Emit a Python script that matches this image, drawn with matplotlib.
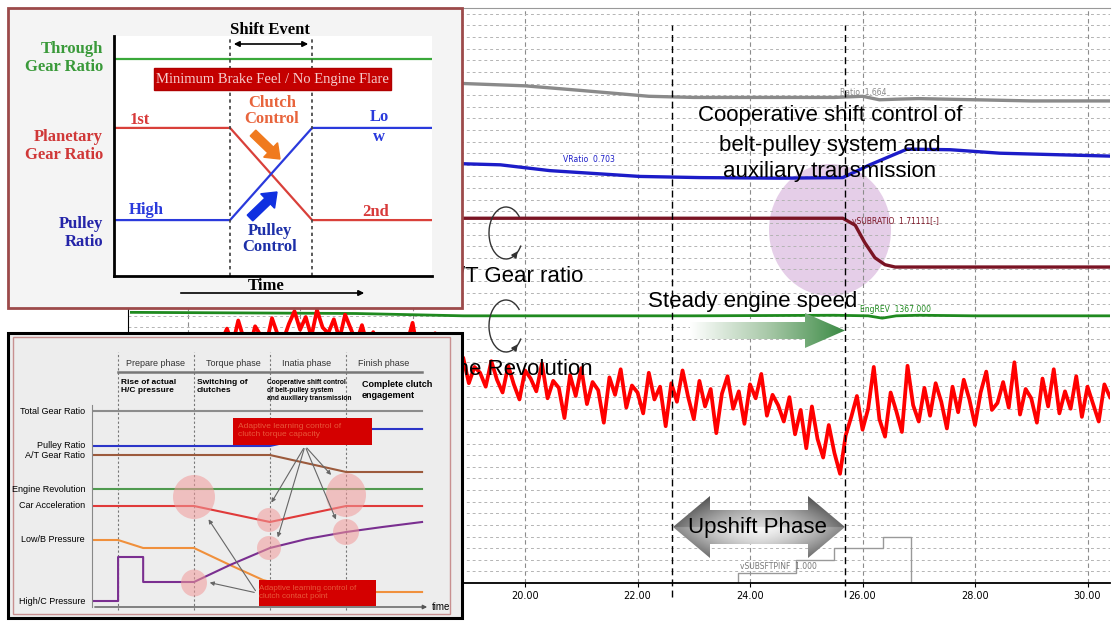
import numpy as np
import matplotlib
matplotlib.use("Agg")
import matplotlib.pyplot as plt
from matplotlib.patches import Ellipse, Arc, Rectangle, FancyArrow, Polygon
from matplotlib.colors import LinearSegmentedColormap

W, H = 1114, 621

# ---- recorder traces (time in s, level in grid divisions) ----
ratio_t = [13.0, 18.9, 20.0, 21.0, 22.2, 23.0, 24.5, 25.5, 26.0, 26.3, 26.6, 27.0, 28.0, 29.0, 30.4]
ratio_v = [43.3, 43.0, 42.8, 42.4, 41.9, 41.8, 41.8, 41.8, 41.9, 41.6, 41.65, 41.7, 41.6, 41.5, 41.5]

vratio_t = [13.0, 18.84, 19.56, 20.44, 22.04, 23.11, 24.53, 25.65, 26.13, 26.79, 27.56, 28.44, 30.4]
vratio_v = [37.0, 36.1, 36.0, 35.5, 35.0, 34.9, 34.85, 34.9, 36.0, 37.35, 37.3, 37.0, 36.75]

subratio_t = [13.0, 25.65, 25.87, 26.04, 26.22, 26.4, 26.58, 30.4]
subratio_v = [31.4, 31.4, 30.8, 29.3, 28.0, 27.4, 27.2, 27.2]

engrev_t = [13.0, 17.0, 18.9, 21.0, 23.0, 25.5, 26.1, 26.35, 26.6, 27.0, 28.0, 30.4]
engrev_v = [23.3, 23.2, 23.0, 23.0, 23.0, 23.05, 23.0, 22.8, 23.0, 23.05, 23.0, 23.0]

shift_t = [13.0, 23.79, 24.82, 25.49, 26.36, 26.86, 30.4]
shift_v = [0.0, 0.9, 2.0, 3.0, 4.0, 0.0, 0.0]

accel_v = [
    20.8, 21.9, 20.5, 22.6, 21.0, 20.2, 22.1, 21.3, 20.6, 22.8,
    21.4, 20.9, 22.3, 23.4, 21.8, 22.9, 21.2, 23.5, 22.0, 21.5,
    22.7, 21.0, 23.1, 21.9, 20.7, 22.2, 20.4, 21.6, 19.8, 20.9,
    19.5, 21.2, 19.9, 20.6, 22.4, 19.7, 20.8, 19.3, 21.5, 19.6,
    18.4, 19.0, 17.6, 19.4, 17.2, 18.6, 18.1, 16.9, 19.1, 17.5,
    16.4, 18.7, 17.1, 15.8, 18.3, 17.6, 16.5, 18.9, 15.9, 17.4,
    16.8, 14.2, 17.9, 16.1, 18.5, 15.4, 17.3, 16.6, 13.8, 17.7,
    16.2, 18.4, 15.1, 17.0, 16.4, 14.6, 18.1, 15.8, 16.9, 13.5,
    17.2, 15.6, 18.3, 16.0, 14.1, 17.4, 15.2, 16.7, 12.9, 16.3,
    17.8, 15.0, 16.5, 13.7, 17.1, 15.9, 18.0, 14.4, 16.2, 15.3,
    13.9, 16.0, 12.8, 14.9, 11.6, 15.2, 12.4, 10.8, 13.6, 11.2,
    9.4, 12.7, 14.3, 16.1, 13.2, 15.0, 18.6, 14.1, 12.6, 16.4,
    14.8, 13.0, 18.7, 15.3, 13.9, 16.8, 14.4, 17.2, 15.6, 13.3,
    16.9, 14.7, 17.5, 15.8, 13.6, 16.4, 18.2, 14.9, 15.5, 17.3,
    15.1, 19.0, 14.5, 16.7, 15.9, 13.8, 17.6, 15.2, 18.4, 14.6,
    16.5, 15.0, 17.8, 14.3, 16.9, 15.4, 13.9, 17.1, 16.0,
]
accel_t = np.linspace(14.6, 30.4, len(accel_v))

time_ticks = [14, 16, 18, 20, 22, 24, 26, 28, 30]
time_labels = ["", "", "", "20.00", "22.00", "24.00", "26.00", "28.00", "30.00"]  # left ones sit under the insets
upshift_start, upshift_end = 22.61, 25.69

# ---- schematic 1 (shift event) ----
sch_t = [0, 3.65, 6.23, 10]
through_v = [9.04, 9.04, 9.04, 9.04]
planetary_v = [6.17, 6.17, 2.33, 2.33]
pulley_v = [2.33, 2.33, 6.17, 6.17]

# ---- schematic 2 (phases) ----
phase_t = [7.9, 30.9, 53.9, 77.0]
phase_names = ["Prepare phase", "Torque phase", "Inatia phase", "Finish phase"]
total_t, total_v = [0, 100], [19.6, 19.6]
pul2_t, pul2_v = [0, 53.9, 77, 100], [16.1, 16.1, 17.8, 17.8]
at_t, at_v = [0, 53.9, 77, 100], [15.2, 15.2, 13.5, 13.5]
eng_t, eng_v = [0, 100], [11.8, 11.8]
acc_t, acc_v = [0, 30.9, 53.9, 77, 100], [10.1, 10.1, 8.5, 10.1, 10.1]
lowb_t = [0, 7.9, 15.5, 30.9, 41.8, 51.8, 60, 77, 100]
lowb_v = [6.7, 6.7, 5.9, 5.9, 4.2, 2.7, 2.0, 1.5, 1.5]
highc_t = [0, 7.9, 7.9, 15.5, 15.5, 30.9, 41.8, 53.9, 65, 77, 88, 100]
highc_v = [0.6, 0.6, 5.0, 5.0, 2.5, 2.5, 4.2, 5.9, 6.8, 7.5, 8.0, 8.5]


def px_rect(x0, y0, x1, y1):
    return [x0 / W, 1 - y1 / H, (x1 - x0) / W, (y1 - y0) / H]


def px_axes(fig, box, z):
    a = fig.add_axes(px_rect(*box))
    a.set_xlim(box[0], box[2])
    a.set_ylim(box[3], box[1])
    a.axis("off")
    a.set_zorder(z)
    return a


def gradient_fill(a, verts, img, extent, cmap, z):
    poly = Polygon(verts, closed=True, facecolor="none", edgecolor="none")
    a.add_patch(poly)
    im = a.imshow(img, extent=extent, aspect="auto", cmap=cmap, vmin=0, vmax=1,
                  interpolation="bilinear", zorder=z)
    im.set_clip_path(poly)


def loop_arrow(a, cx, cy):
    a.add_patch(Arc((cx, cy), 34, 52, theta1=40, theta2=310, color="#333333", lw=1.0))
    th0, th1 = np.radians(58), np.radians(38)
    a.annotate("", xy=(cx + 17 * np.cos(th1), cy + 26 * np.sin(th1)),
               xytext=(cx + 17 * np.cos(th0), cy + 26 * np.sin(th0)),
               arrowprops=dict(arrowstyle="-|>", color="#333333", lw=1.0, mutation_scale=9))


fig = plt.figure(figsize=(W / 100, H / 100), dpi=100)
MAIN = (128, 8, 1110, 583)
SANS = "Liberation Sans"
SERIF = "Liberation Serif"

# purple highlight behind the traces
back = px_axes(fig, MAIN, 0)
back.add_patch(Ellipse((830, 230), 122, 132, facecolor="#cc9ed2", alpha=0.5, edgecolor="none"))

# ---- main recorder chart ----
ax = fig.add_axes(px_rect(*MAIN))
ax.set_zorder(1)
ax.patch.set_visible(False)
ax.set_xlim(12.94, 30.4)
ax.set_ylim(0, 49.5)
ax.set_xticks(time_ticks)
ax.set_xticklabels(time_labels)
ax.set_yticks(range(1, 50))
ax.tick_params(axis="y", length=0, labelleft=False)
ax.tick_params(axis="x", length=3, labelsize=7, pad=3)
ax.xaxis.grid(True, color="#8c8c8c", lw=0.8, ls=(0, (4, 3)))
ax.yaxis.grid(True, color="#b4b4b4", lw=0.7, ls=(0, (3, 3)))
ax.spines["right"].set_visible(False)
ax.spines["top"].set_color("#999999")
ax.spines["bottom"].set_linewidth(1.3)

ax.plot(ratio_t, ratio_v, color="#8a8a8a", lw=2.4)
ax.plot(vratio_t, vratio_v, color="#1c1cc8", lw=2.4)
ax.plot(subratio_t, subratio_v, color="#7a1424", lw=2.4)
ax.plot(engrev_t, engrev_v, color="#1f8a1f", lw=2.0)
ax.plot(accel_t, accel_v, color="#ff0000", lw=2.7)
ax.plot(shift_t, shift_v, color="#999999", lw=1.0, drawstyle="steps-post")
for t in (upshift_start, upshift_end):
    ax.plot([t, t], [-1.2, 48.0], color="black", lw=1.0, ls=(0, (5, 3)), clip_on=False)

ax.text(25.6, 42.2, "Ratio  1.664", fontsize=5.5, color="#888888", va="center")
ax.text(20.68, 36.1, "VRatio  0.703", fontsize=5.5, color="#1c1cc8", va="bottom")
ax.text(25.81, 31.2, "vSUBRATIO  1.71111[-]", fontsize=5.5, color="#7a1424", va="center")
ax.text(25.96, 23.2, "EngREV  1367.000", fontsize=5.5, color="#1f8a1f", va="bottom")
ax.text(23.82, 1.4, "vSUBSFTPINF  1.000", fontsize=5.5, color="#777777", va="center")

# ---- annotations on top of the recorder ----
front = px_axes(fig, MAIN, 2)
for y, s in [(116, "Cooperative shift control of"), (145, "belt-pulley system and"),
             (171, "auxiliary transmission")]:
    front.text(830, y, s, ha="center", va="center", fontsize=16, family=SANS)
front.text(444, 277, "A/T Gear ratio", ha="left", va="center", fontsize=16, family=SANS)
front.text(412, 370, "Engine Revolution", ha="left", va="center", fontsize=16, family=SANS)
front.text(753, 302, "Steady engine speed", ha="center", va="center", fontsize=16, family=SANS)
loop_arrow(front, 506, 233)
loop_arrow(front, 506, 326)

green_cmap = LinearSegmentedColormap.from_list("g", ["#ffffff", "#a9c9a9", "#3b8a44"])
gradient_fill(front, [(690, 322), (805, 322), (805, 313), (845, 330.5), (805, 348), (805, 339), (690, 339)],
              np.linspace(0, 1, 256)[None, :], [690, 845, 348, 313], green_cmap, 3)

gx = np.linspace(-1, 1, 200)[None, :]
gy = np.linspace(-1, 1, 80)[:, None]
shade = np.clip(0.97 - 0.45 * np.abs(gx) ** 1.6 - 0.35 * np.abs(gy) ** 1.4 - 0.12 * (gy < 0), 0, 1)
gradient_fill(front, [(673, 527), (710, 496), (710, 510), (808, 510), (808, 496), (845, 527),
                      (808, 558), (808, 544), (710, 544), (710, 558)],
              shade, [673, 845, 558, 496], "gray", 3)
front.text(757, 527, "Upshift Phase", ha="center", va="center", fontsize=16, family=SANS, zorder=4)
front.set_xlim(MAIN[0], MAIN[2])
front.set_ylim(MAIN[3], MAIN[1])

# ---- inset 1: shift event schematic ----
p1 = px_axes(fig, (8, 8, 462, 308), 3)
p1.add_patch(Rectangle((8, 8), 454, 300, facecolor="#f4f4f4", edgecolor="#9c4a4a", lw=2, clip_on=False))

in1 = fig.add_axes(px_rect(114, 36, 432, 276))
in1.set_zorder(4)
in1.set_xlim(0, 10)
in1.set_ylim(0, 10)
in1.set_xticks([])
in1.set_yticks([])
for s in ("top", "right"):
    in1.spines[s].set_visible(False)
for s in ("left", "bottom"):
    in1.spines[s].set_linewidth(2)
in1.plot([sch_t[0], sch_t[-1]], [through_v[0], through_v[-1]], color="#3aa83a", lw=1.6)
in1.plot(sch_t, planetary_v, color="#d9403a", lw=1.6)
in1.plot(sch_t, pulley_v, color="#2a3adc", lw=1.6)
for t in (sch_t[1], sch_t[2]):
    in1.axvline(t, color="#404040", lw=1.2, ls=(0, (2, 2)))


def t1(x, y, s, **kw):
    kw.setdefault("family", SERIF)
    kw.setdefault("fontweight", "bold")
    kw.setdefault("fontsize", 12)
    return in1.text(x, y, s, transform=p1.transData, clip_on=False, **kw)


t1(103, 58, "Through\nGear Ratio", color="#3a9a3a", ha="right", va="center", multialignment="right")
t1(103, 146, "Planetary\nGear Ratio", color="#d03838", ha="right", va="center", multialignment="right")
t1(103, 233, "Pulley\nRatio", color="#2424a8", ha="right", va="center", multialignment="right")
t1(270, 30, "Shift Event", ha="center", va="center")
in1.annotate("", xy=(311, 44), xytext=(231, 44), xycoords=p1.transData, textcoords=p1.transData,
             arrowprops=dict(arrowstyle="<|-|>", color="black", lw=1.2, mutation_scale=8),
             annotation_clip=False)
in1.add_patch(Rectangle((154, 68), 237, 22, facecolor="#c40000", edgecolor="#b00000",
                        transform=p1.transData, clip_on=False, zorder=5))
t1(272.5, 79, "Minimum Brake Feel / No Engine Flare", color="#f6cccc", fontweight="normal",
   fontsize=10.5, ha="center", va="center", zorder=6)
t1(272, 111, "Clutch\nControl", color="#e8643c", ha="center", va="center", linespacing=1.0)
t1(270, 239, "Pulley\nControl", color="#1c2fa8", ha="center", va="center", linespacing=1.0)
in1.add_patch(FancyArrow(253, 133, 27, 26, width=8, head_width=20, head_length=13,
                         length_includes_head=True, color="#f07a1e", transform=p1.transData, clip_on=False))
in1.add_patch(FancyArrow(250, 218, 27, -26, width=8, head_width=20, head_length=13,
                         length_includes_head=True, color="#1030e0", transform=p1.transData, clip_on=False))
t1(140, 120, "1st", color="#d83a3a", ha="center", va="center")
t1(146, 210, "High", color="#2a3adc", ha="center", va="center")
t1(379, 117, "Lo", color="#2a3adc", ha="center", va="center")
t1(379, 137, "w", color="#2a3adc", ha="center", va="center")
t1(376, 212, "2nd", color="#d83a3a", ha="center", va="center")
t1(266, 286, "Time", ha="center", va="center")
in1.annotate("", xy=(367, 293), xytext=(178, 293), xycoords=p1.transData, textcoords=p1.transData,
             arrowprops=dict(arrowstyle="-|>", color="black", lw=1.2, mutation_scale=8),
             annotation_clip=False)

# ---- inset 2: phase schematic ----
p2 = px_axes(fig, (8, 333, 462, 618), 5)
p2.add_patch(Rectangle((8, 333), 454, 285, facecolor="#ededed", edgecolor="black", lw=2.2, clip_on=False))
p2.add_patch(Rectangle((13, 337), 437, 277, facecolor="none", edgecolor="#c89090", lw=1))

in2 = fig.add_axes(px_rect(92, 405, 428, 607))
in2.set_zorder(6)
in2.patch.set_visible(False)
in2.set_xlim(0, 101.8)
in2.set_ylim(0, 20.2)
in2.set_xticks([])
in2.set_yticks([])
for s in ("top", "right", "bottom"):
    in2.spines[s].set_visible(False)
in2.spines["left"].set_color("#888888")

for t in phase_t:
    in2.plot([t, t], [-0.3, 25.5], color="#777777", lw=0.8, ls=(0, (2, 2)), clip_on=False)
in2.plot(total_t, total_v, color="#8c8c8c", lw=1.5)
in2.plot(pul2_t, pul2_v, color="#2b35c8", lw=1.5)
in2.plot(at_t, at_v, color="#9c5a3c", lw=1.5)
in2.plot(eng_t, eng_v, color="#4f9a4f", lw=1.5)
in2.plot(acc_t, acc_v, color="#e03a3a", lw=1.5)
in2.plot(lowb_t, lowb_v, color="#f0903c", lw=1.5)
in2.plot(highc_t, highc_v, color="#7a2f90", lw=1.5)


def t2(x, y, s, **kw):
    kw.setdefault("family", SANS)
    kw.setdefault("fontsize", 6.5)
    return in2.text(x, y, s, transform=p2.transData, clip_on=False, **kw)


for x, s in zip([155, 233, 307, 384], phase_names):
    t2(x, 363, s, ha="center", va="center", color="#333333")
in2.plot([118, 422], [372, 372], color="#777777", lw=1.8, transform=p2.transData, clip_on=False)
t2(121, 386, "Rise of actual\nH/C pressure", fontweight="bold", fontsize=6, va="center")
t2(197, 386, "Switching of\nclutches", fontweight="bold", fontsize=6, va="center")
t2(267, 391, "Cooperative shift control\nof belt-pulley system\nand auxiliary transmission",
   fontweight="bold", fontsize=4.8, va="center")
t2(362, 390, "Complete clutch\nengagement", fontweight="bold", fontsize=6.5, va="center")

for y, s in [(411, "Total Gear Ratio"), (446, "Pulley Ratio"), (455, "A/T Gear Ratio"),
             (489, "Engine Revolution"), (506, "Car Acceleration"), (540, "Low/B Pressure"),
             (601, "High/C Pressure")]:
    t2(85, y, s, ha="right", va="center")

for cx, cy, w, h in [(194, 497, 42, 44), (194, 583, 26, 27), (269, 520, 24, 24),
                     (269, 548, 24, 24), (346, 495, 40, 44), (346, 532, 26, 26)]:
    in2.add_patch(Ellipse((cx, cy), w, h, facecolor="#f29a9a", alpha=0.55, edgecolor="none",
                          transform=p2.transData, clip_on=False, zorder=4))

in2.add_patch(Rectangle((233, 418), 139, 27, facecolor="#d40000", transform=p2.transData,
                        clip_on=False, zorder=5))
t2(238, 431, "Adaptive learning control of\nclutch torque capacity", color="#e8583a", va="center",
   fontsize=6, zorder=6)
in2.add_patch(Rectangle((259, 580), 117, 26, facecolor="#d40000", transform=p2.transData,
                        clip_on=False, zorder=5))
t2(259, 593, "Adaptive learning control of\nclutch contact point", color="#e8583a", va="center",
   fontsize=5.8, zorder=6)

for src, dst in [((305, 446), (270, 505)), ((305, 446), (277, 540)), ((305, 446), (333, 477)),
                 ((305, 446), (337, 522)), ((257, 593), (207, 517)), ((257, 593), (207, 582))]:
    in2.annotate("", xy=dst, xytext=src, xycoords=p2.transData, textcoords=p2.transData,
                 arrowprops=dict(arrowstyle="-|>", color="#666666", lw=0.8, mutation_scale=6),
                 annotation_clip=False, zorder=7)

in2.annotate("", xy=(430, 607), xytext=(92, 607), xycoords=p2.transData, textcoords=p2.transData,
             arrowprops=dict(arrowstyle="-|>", color="#555555", lw=1.0, mutation_scale=6),
             annotation_clip=False)
t2(432, 607, "time", ha="left", va="center", fontsize=7)

fig.savefig("out.png", dpi=100)
